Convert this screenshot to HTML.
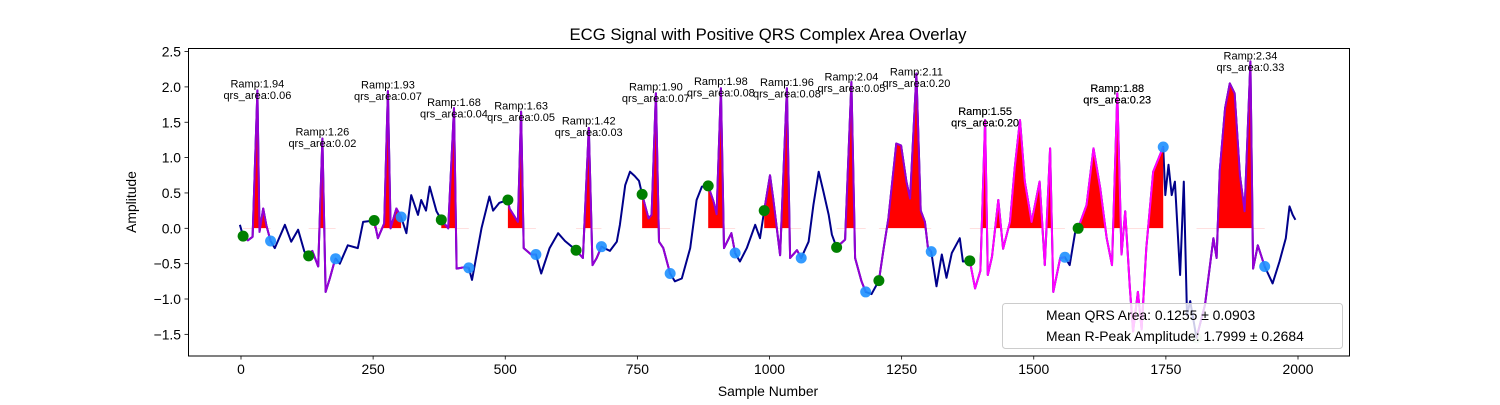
<!DOCTYPE html>
<html><head><meta charset="utf-8"><style>
body{margin:0;background:#fff;}
svg text{font-family:"Liberation Sans",sans-serif;fill:#000;}
</style></head><body>
<svg id="chart" width="1500" height="400" xmlns="http://www.w3.org/2000/svg">
<rect width="1500" height="400" fill="#fff"/>
<text x="768" y="40" font-size="16.7" text-anchor="middle">ECG Signal with Positive QRS Complex Area Overlay</text>
<text x="768" y="396" font-size="13.9" text-anchor="middle">Sample Number</text>
<text x="0" y="0" font-size="13.9" text-anchor="middle" transform="translate(136,202) rotate(-90)">Amplitude</text>
<defs><clipPath id="plotclip"><rect x="188" y="48" width="1162" height="308"/></clipPath>
<clipPath id="posclip"><rect x="188" y="48" width="1162" height="180.3"/></clipPath></defs>
<g id="ticks"></g>
<g id="plot" clip-path="url(#plotclip)"></g>
<g id="labels"></g>
<rect x="188.5" y="48.5" width="1161" height="307.5" fill="none" stroke="#000" stroke-width="1"/>
<g>
<rect x="1002.5" y="303.5" width="340" height="45" rx="3" fill="#fff" fill-opacity="0.8" stroke="#ccc"/>
<text x="1046" y="320" font-size="13.9">Mean QRS Area: 0.1255 ± 0.0903</text>
<text x="1046" y="341" font-size="13.9">Mean R-Peak Amplitude: 1.7999 ± 0.2684</text>
</g>
</svg>
<script>
const samples=[-2,4,13,22,31,35,42,48,56,64,83,95,108,120,128,135,146,154,160,168,177,179,187,202,221,231,252,259,271,278,283,294,303,313,322,335,341,350,357,370,379,392,403,408,423,431,437,455,470,477,489,505,508,524,530,535,549,558,568,584,600,613,634,647,658,665,673,682,698,711,717,727,736,745,753,759,771,777,785,791,799,812,821,834,850,862,872,884,894,900,908,914,928,935,944,957,973,982,990,1001,1007,1020,1033,1039,1052,1060,1074,1083,1093,1102,1112,1118,1127,1143,1155,1162,1174,1182,1193,1207,1216,1225,1240,1249,1259,1266,1278,1286,1294,1300,1306,1316,1326,1335,1345,1360,1366,1379,1389,1399,1408,1413,1421,1433,1442,1455,1464,1474,1483,1496,1511,1521,1531,1537,1550,1559,1568,1578,1584,1600,1613,1626,1638,1648,1658,1666,1673,1682,1688,1697,1704,1713,1726,1745,1749,1755,1761,1767,1777,1784,1790,1796,1808,1824,1840,1846,1852,1862,1871,1880,1890,1899,1910,1915,1924,1937,1952,1965,1977,1984,1990,1995];
const values=[0.05,-0.11,-0.17,-0.12,1.95,-0.05,0.28,0.04,-0.18,-0.28,0.05,-0.19,-0.02,-0.33,-0.39,-0.32,-0.54,1.27,-0.9,-0.71,-0.47,-0.43,-0.5,-0.24,-0.28,0.09,0.11,-0.14,0.07,1.94,0.0,0.28,0.16,-0.07,0.47,0.19,0.4,0.25,0.59,0.24,0.12,0.0,1.7,-0.57,-0.55,-0.56,-0.73,0.0,0.45,0.25,0.36,0.4,0.28,0.09,1.65,-0.28,-0.37,-0.37,-0.64,-0.28,-0.07,-0.18,-0.31,-0.42,1.42,-0.52,-0.42,-0.26,-0.32,-0.19,0.05,0.61,0.8,0.74,0.67,0.48,0.14,0.19,1.91,-0.19,-0.28,-0.64,-0.75,-0.71,-0.28,0.4,0.59,0.6,0.38,0.2,1.98,-0.28,-0.07,-0.35,-0.47,-0.28,0.05,-0.14,0.25,0.75,0.42,-0.38,1.98,-0.42,-0.31,-0.42,-0.19,0.33,0.8,0.52,0.19,-0.09,-0.27,-0.16,2.07,-0.42,-0.75,-0.9,-0.93,-0.74,-0.28,0.14,1.2,1.17,0.66,0.42,2.19,0.25,0.09,-0.28,-0.33,-0.82,-0.37,-0.7,-0.35,-0.14,-0.47,-0.46,-0.85,-0.6,1.53,-0.66,-0.4,0.4,-0.29,0.09,0.85,1.53,0.66,0.09,0.66,-0.52,1.13,-0.9,-0.42,-0.41,-0.52,-0.07,0.0,0.33,1.13,0.56,-0.14,-0.52,1.91,-0.37,0.24,-0.85,-1.46,-0.9,-1.43,-0.28,0.8,1.15,0.47,0.9,0.47,0.66,-0.66,0.66,-1.23,-1.03,-1.55,-1.08,-0.14,-0.42,0.82,1.7,2.05,1.91,0.75,0.24,2.36,-0.57,-0.24,-0.54,-0.78,-0.47,-0.14,0.31,0.19,0.12];
const windowStarts=[4,128,252,379,505,634,759,884,990,1127,1207,1379,1584,1808];
const windowEnds=[56,179,303,431,558,682,812,935,1060,1182,1306,1559,1745,1937];
const windowMagenta=[0,0,0,0,0,0,0,0,0,0,0,1,1,0];
const peakSamples=[31,154,278,403,530,658,785,908,1033,1155,1278,1408,1408,1658,1658,1910];
const peakAmps=["1.94","1.26","1.93","1.68","1.63","1.42","1.90","1.98","1.96","2.04","2.11","1.55","1.55","1.88","1.88","2.34"];
const peakAreas=["0.06","0.02","0.07","0.04","0.05","0.03","0.07","0.08","0.08","0.05","0.20","0.20","0.20","0.23","0.23","0.33"];
const xTicks=[0,250,500,750,1000,1250,1500,1750,2000];
const yTicks=[2.5,2.0,1.5,1.0,0.5,0.0,-0.5,-1.0,-1.5];

const NS="http://www.w3.org/2000/svg";
const X=s=>241+s*0.5285;
const Y=v=>228.3-v*70.7;
function mk(tag,attrs,parent){const e=document.createElementNS(NS,tag);for(const k in attrs)e.setAttribute(k,attrs[k]);parent.appendChild(e);return e;}
function interp(s){for(let i=0;i<samples.length-1;i++){if(s>=samples[i]&&s<=samples[i+1]){const t=(s-samples[i])/(samples[i+1]-samples[i]);return values[i]+t*(values[i+1]-values[i]);}}return values[values.length-1];}
const ticks=document.getElementById('ticks');
xTicks.forEach(t=>{
  const l=mk('line',{x1:X(t),x2:X(t),y1:356,y2:359.5,stroke:'#000','stroke-width':0.8},ticks);
  
  
  const tx=mk('text',{x:X(t),y:374,'font-size':13.9,'text-anchor':'middle'},ticks);
  tx.textContent=String(t);
  
  
});
yTicks.forEach(t=>{
  const l=mk('line',{x1:184.5,x2:188,y1:Y(t),y2:Y(t),stroke:'#000','stroke-width':0.8},ticks);
  
  
  const tx=mk('text',{x:181,y:Y(t)+5,'font-size':13.9,'text-anchor':'end'},ticks);
  tx.textContent=(t<0?'\u2212':'')+Math.abs(t).toFixed(1);
  
  
});
const plot=document.getElementById('plot');
const allPts=samples.map((s,i)=>X(s).toFixed(1)+','+Y(values[i]).toFixed(1)).join(' ');
const base=mk('polyline',{points:allPts,fill:'none',stroke:'#00008b','stroke-width':2,'stroke-linejoin':'round'},plot);


const fillG=mk('g',{'clip-path':'url(#posclip)'},plot);


windowStarts.forEach((a,w)=>{
  const b=windowEnds[w];
  const pts=[[a,interp(a)]];
  samples.forEach((s,i)=>{if(s>a&&s<b)pts.push([s,values[i]]);});
  pts.push([b,interp(b)]);
  const poly=[X(a)+','+Y(0)].concat(pts.map(p=>X(p[0]).toFixed(1)+','+Y(p[1]).toFixed(1))).concat([X(b)+','+Y(0)]).join(' ');
  const f=mk('polygon',{points:poly,fill:'#ff0000'},fillG);
  
  
  const seg=mk('polyline',{points:pts.map(p=>X(p[0]).toFixed(1)+','+Y(p[1]).toFixed(1)).join(' '),fill:'none',stroke:windowMagenta[w]?'#ff00ff':'#9400d3','stroke-width':2,'stroke-linejoin':'round'},plot);
  
  
});
windowStarts.forEach((a,w)=>{
  const b=windowEnds[w];
  const g=mk('circle',{cx:X(a),cy:Y(interp(a)),r:5.5,fill:'#008000','fill-opacity':w==13?0.2:1},plot);
  
  
  const c=mk('circle',{cx:X(b),cy:Y(interp(b)),r:5.5,fill:'#1e90ff','fill-opacity':0.9},plot);
  
  
});
const labels=document.getElementById('labels');
peakSamples.forEach((s,i)=>{
  const yy=Y(parseFloat(peakAmps[i]));
  const t1=mk('text',{x:X(s),y:yy-3.5,'font-size':11,'text-anchor':'middle'},labels);
  t1.textContent='Ramp:'+peakAmps[i];
  
  
  const t2=mk('text',{x:X(s),y:yy+8,'font-size':11,'text-anchor':'middle'},labels);
  t2.textContent='qrs_area:'+peakAreas[i];
  
  
});
</script>
</body></html>
